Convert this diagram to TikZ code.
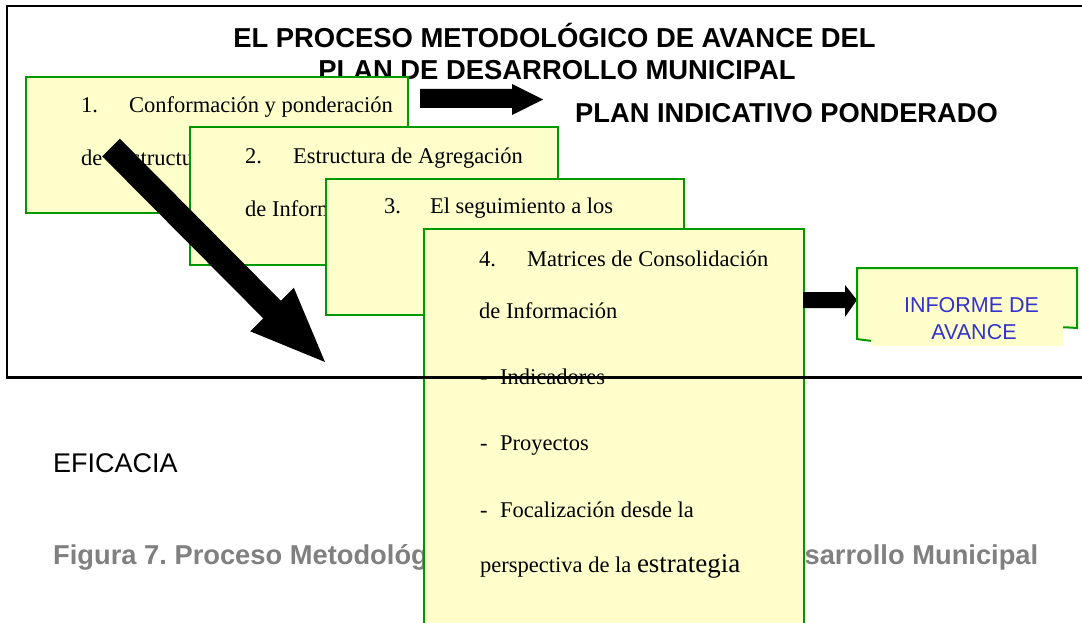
\documentclass[tikz,border=0pt]{standalone}
\usepackage{fontspec}
\setmainfont{Liberation Serif}
\newfontfamily\arial{Liberation Sans}
\definecolor{boxfill}{HTML}{FFFFCC}
\definecolor{boxgreen}{HTML}{009900}
\definecolor{infoblue}{HTML}{3333CC}
\definecolor{capgray}{HTML}{808080}
\tikzset{
  card/.style={draw=boxgreen, fill=boxfill, line width=2pt, inner sep=0pt, anchor=north west},
  txt/.style={inner sep=0pt, anchor=base west, font=\fontsize{22.5}{27}\selectfont},
  head/.style={inner sep=0pt, anchor=base, font=\arial\bfseries\fontsize{27.4}{30}\selectfont},
  blockarrow/.style={fill=black},
}
\begin{document}
\frenchspacing
\begin{tikzpicture}[x=1pt,y=-1pt]
\useasboundingbox (0,0) rectangle (1082,623);
% titles and free texts
\node[head] (t1) at (554.5,48) {EL PROCESO METODOLÓGICO DE AVANCE DEL};
\node[head] (t2) at (557,80) {PLAN DE DESARROLLO MUNICIPAL};
\node[inner sep=0pt, anchor=base west, font=\arial\bfseries\fontsize{27.3}{30}\selectfont] (plan) at (575,123) {PLAN INDICATIVO PONDERADO};
\node[inner sep=0pt, anchor=base west, font=\arial\fontsize{27}{30}\selectfont] (efi) at (53,472) {EFICACIA};
\node[inner sep=0pt, anchor=base west, text=capgray, font=\arial\bfseries\fontsize{27.3}{30}\selectfont\frenchspacing] (cap) at (53,564) {Figura 7. Proceso Metodológico de Avance del Plan de Desarrollo Municipal};
% arrow to plan indicativo
\fill[blockarrow] (420,89) -- (512,89) -- (512,84) -- (543,99.5) -- (512,115) -- (512,108) -- (420,108) -- cycle;
% box 1
\node[card, minimum width=382pt, minimum height=136pt] (box1) at (25,76) {};
\node[txt] (b1a) at (81,113) {1.\hspace{31pt}Conformación y ponderación};
\node[txt] (b1b) at (81,166) {de\hspace{10pt} Estructura};
% box 2
\node[card, minimum width=368pt, minimum height=138pt] (box2) at (189,126) {};
\node[txt] (b2a) at (245,164) {2.\hspace{31pt}Estructura de Agregación};
\node[txt] (b2b) at (245,216) {de Información};
% box 3
\node[card, minimum width=358pt, minimum height=136pt] (box3) at (325,178) {};
\node[txt] (b3a) at (384,213) {3.\hspace{29pt}El seguimiento a los};
% box 4
\node[card, minimum width=380pt, minimum height=420pt] (box4) at (423,228) {};
\node[txt] (b4a) at (479,266) {4.\hspace{31pt}Matrices de Consolidación};
\node[txt] (b4b) at (479,318) {de Información};
\node[txt] (b4c) at (480,384) {-\hspace{12.5pt}Indicadores};
\node[txt] (b4d) at (480,450) {-\hspace{12.5pt}Proyectos};
\node[txt] (b4e) at (480,517) {-\hspace{12.5pt}Focalización desde la};
\node[txt] (b4f) at (480,572) {perspectiva de la {\fontsize{27}{30}\selectfont estrategia}};
% big diagonal arrow
\fill[blockarrow] (119.8,138.7) -- (280.8,300.7) -- (293.8,287.7) -- (325,362) -- (250.2,331.3) -- (263.2,318.3) -- (102.2,156.3) -- cycle;
% arrow to informe
\fill[blockarrow] (803,292) -- (845,292) -- (845,285) -- (857,300) -- (845,317) -- (845,308) -- (803,308) -- cycle;
% informe document shape
\draw[draw=boxgreen, fill=boxfill, line width=2pt] (857,268) -- (1077,268) -- (1077,328) .. controls (1000,322) and (940,352) .. (857,339) -- cycle;
\fill[boxfill] (871,318) rectangle (1063,346);
\node[inner sep=0pt, anchor=base, text=infoblue, font=\arial\fontsize{21.5}{27}\selectfont] (inf1) at (971.5,312) {INFORME DE};
\node[inner sep=0pt, anchor=base, text=infoblue, font=\arial\fontsize{21.5}{27}\selectfont] (inf2) at (974,339) {AVANCE};
% frame
\draw[line width=2.5pt] (1090,6) -- (7,6) -- (7,377.5) -- (1090,377.5);
\end{tikzpicture}
\end{document}
